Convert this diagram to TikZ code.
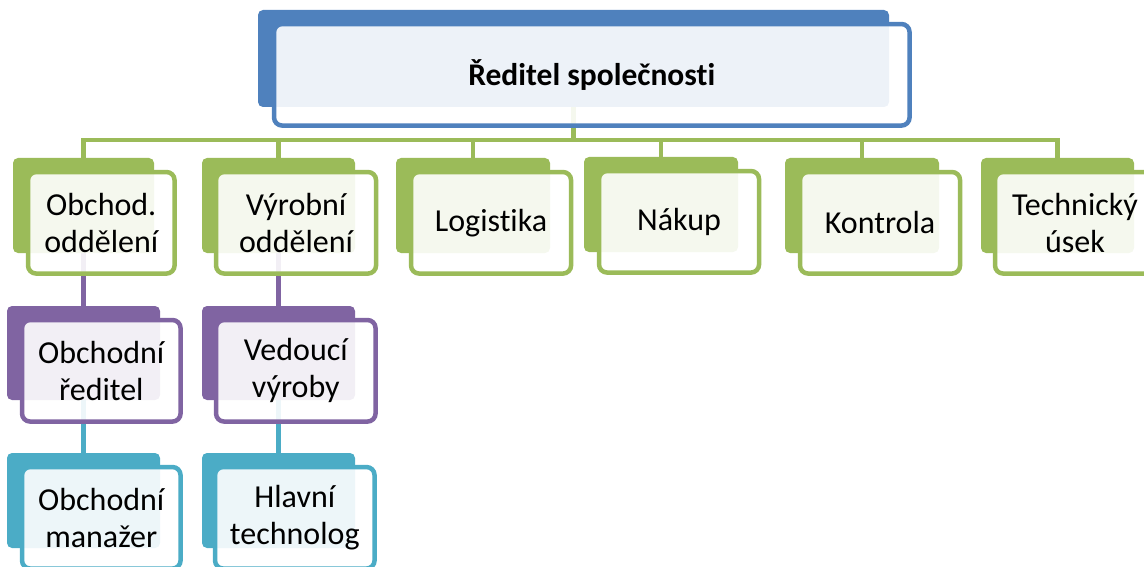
\documentclass[tikz,border=0pt]{standalone}
\usepackage{fontspec}
\setmainfont[Ligatures=NoCommon]{Carlito}
\usetikzlibrary{positioning, backgrounds}
\definecolor{ceoblue}{HTML}{4F81BD}
\definecolor{depgreen}{HTML}{9BBB59}
\definecolor{mgrpurple}{HTML}{8064A2}
\definecolor{staffteal}{HTML}{4BACC6}
\tikzset{
  back/.style={rectangle, rounded corners=5pt, fill=#1, minimum width=154pt, minimum height=95pt, inner sep=0pt},
  front/.style={rectangle, rounded corners=8pt, draw=#1, line width=4.5pt, fill=white, fill opacity=0.9, text opacity=1, minimum width=160pt, minimum height=101.5pt, inner sep=2pt},
  link/.style={line width=4.5pt}
}

\begin{document}
\begin{tikzpicture}[
  x=1pt, y=-1pt,
  every node/.style={font=\fontsize{32}{37}\selectfont, align=center}
]
\useasboundingbox (0,0) rectangle (1144,567);
\clip (0,0) rectangle (1144,567);

% Top
\node[back=ceoblue, minimum width=631pt, minimum height=97pt] (ceo) at (573.5,58.5) {};
\node[front=ceoblue, minimum width=635.5pt, below right=12pt and 14pt of ceo.north west,
      font=\fontsize{31.5}{37}\selectfont\bfseries] (ceoF) {Ředitel společnosti};

% Departments
\node[back=depgreen, minimum width=141pt] (obch) at (83.5,205.5) {};
\node[front=depgreen, minimum width=146.5pt, below right=12pt and 13pt of obch.north west] (obchF) {Obchod.\\oddělení};

\node[back=depgreen, minimum width=153pt] (vyr) at (278.5,205.5) {};
\node[front=depgreen, below right=12pt and 12pt of vyr.north west] (vyrF) {Výrobní\\oddělení};

\node[back=depgreen] (log) at (473,205.5) {};
\node[front=depgreen, below right=12pt and 13pt of log.north west] (logF) {Logistika};

\node[back=depgreen] (nak) at (661,204.5) {};
\node[front=depgreen, below right=12pt and 13pt of nak.north west] (nakF) {Nákup};

\node[back=depgreen] (kon) at (862,205.5) {};
\node[front=depgreen, below right=12pt and 13pt of kon.north west] (konF) {Kontrola};

\node[back=depgreen, minimum width=153pt] (tech) at (1057.5,205.5) {};
\node[front=depgreen, below right=12pt and 12pt of tech.north west] (techF) {Technický\\úsek};

% Managers
\node[back=mgrpurple, minimum width=153pt, minimum height=94pt] (obchR) at (83.5,353) {};
\node[front=mgrpurple, minimum width=158.5pt, below right=12pt and 13pt of obchR.north west] (obchRF) {Obchodní\\ředitel};

\node[back=mgrpurple, minimum width=153pt, minimum height=94pt] (vedV) at (278.5,353) {};
\node[front=mgrpurple, minimum width=159.5pt, below right=12pt and 12pt of vedV.north west] (vedVF) {Vedoucí\\výroby};

% Staff
\node[back=staffteal, minimum width=153pt] (obchM) at (83.5,500.5) {};
\node[front=staffteal, minimum width=158.5pt, below right=12pt and 13pt of obchM.north west] (obchMF) {Obchodní\\manažer};

\node[back=staffteal, minimum width=153pt] (hlT) at (278.5,500.5) {};
\node[front=staffteal, minimum width=159.5pt, below right=12pt and 11pt of hlT.north west] (hlTF) {Hlavní\\technolog};

% Links
\begin{scope}[on background layer]
  \coordinate (bus) at (573.5,140);
  \foreach \d in {obch, vyr, log, nak, kon, tech}
    \draw[link, depgreen] (ceo.south) -- (bus) -| (\d.north);
  \draw[link, mgrpurple] (obch.south) -- (obchR.north);
  \draw[link, mgrpurple] (vyr.south) -- (vedV.north);
  \draw[link, staffteal] (obchR.south) -- (obchM.north);
  \draw[link, staffteal] (vedV.south) -- (hlT.north);
\end{scope}

\end{tikzpicture}
\end{document}
